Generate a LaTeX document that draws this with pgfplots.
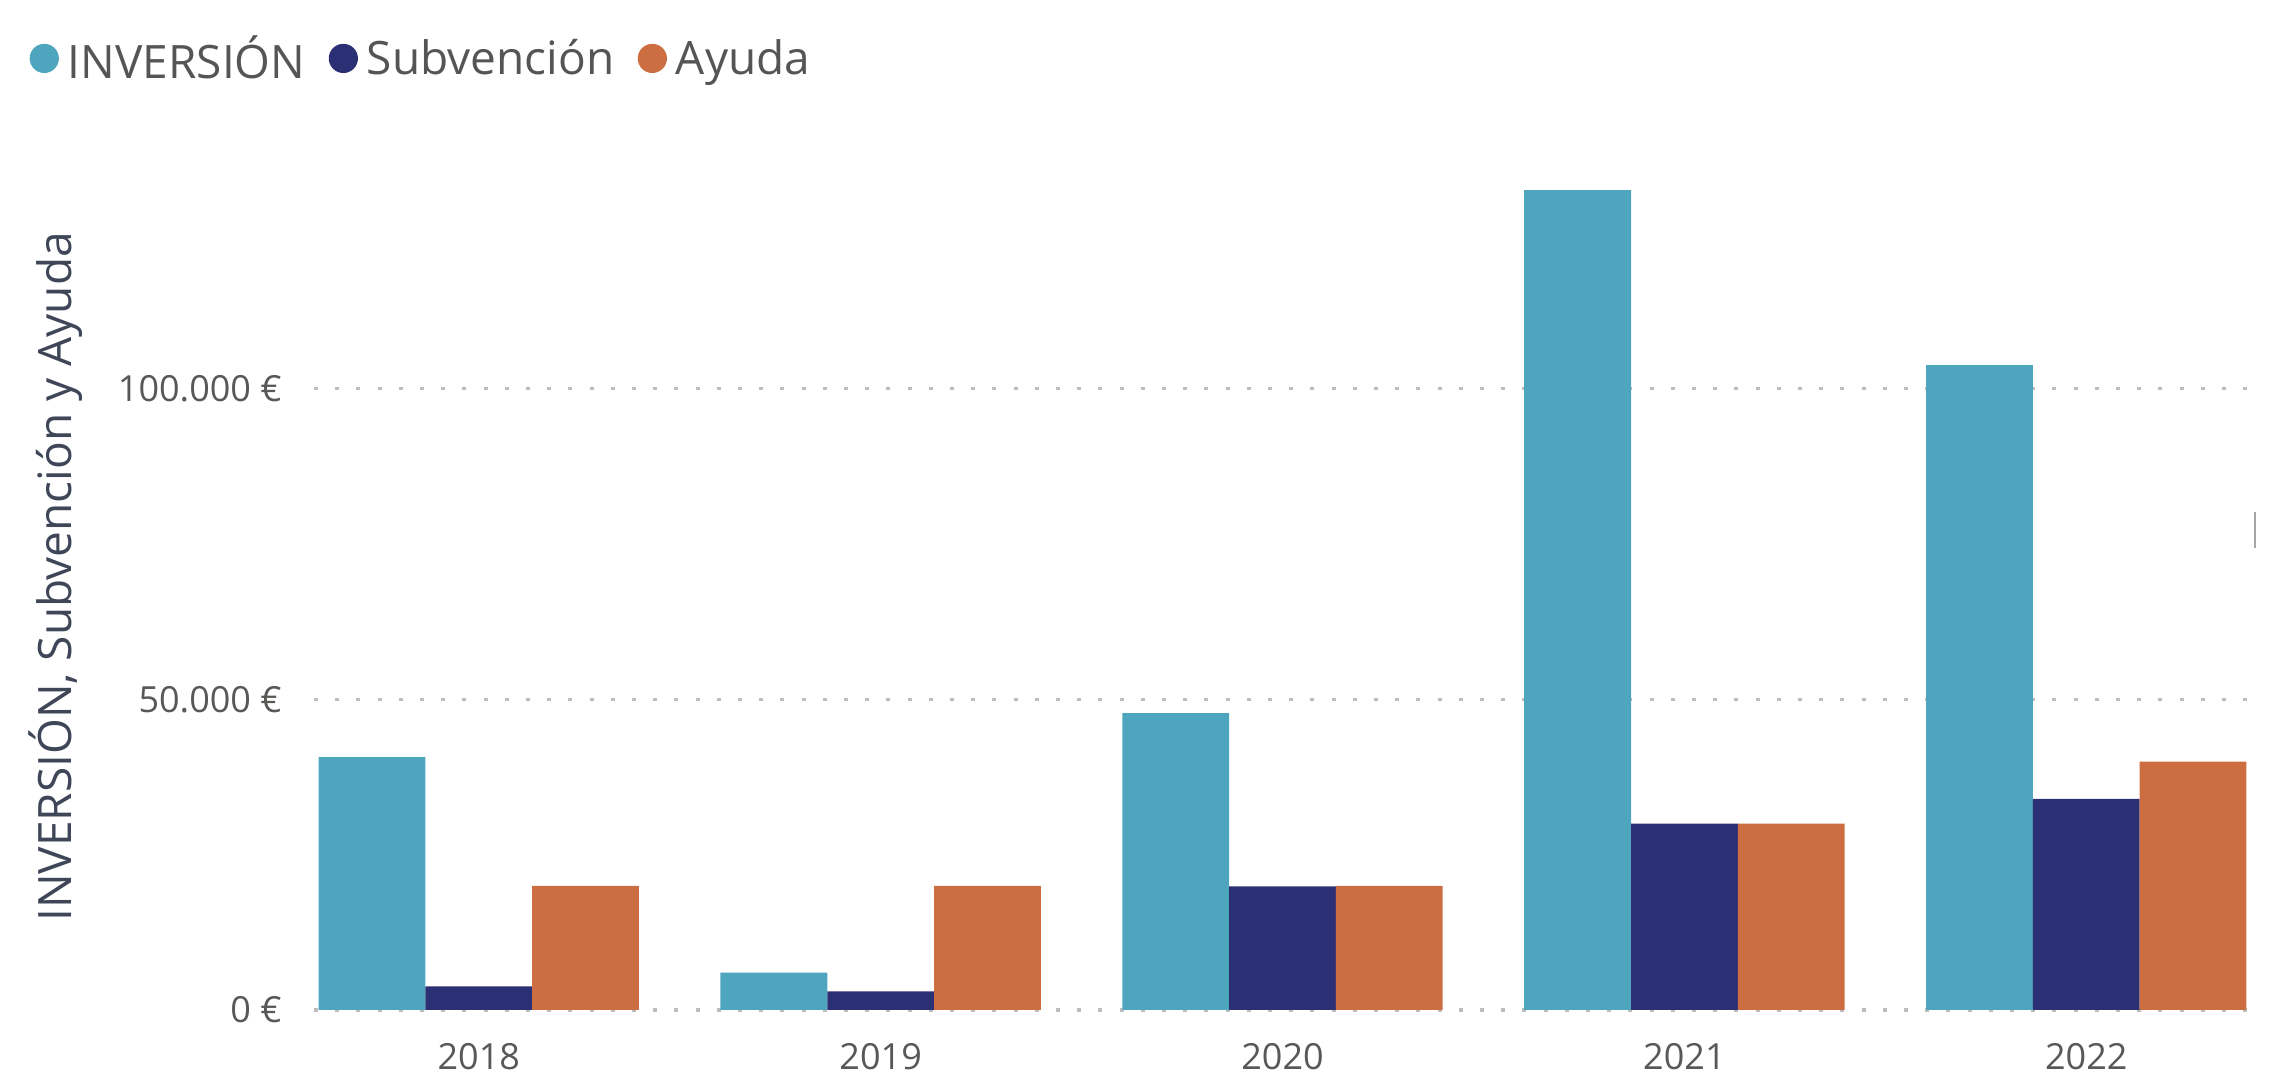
\documentclass[border=0pt]{standalone}
\usepackage{fontspec}
\setmainfont{Open Sans}
\usepackage{pgfplots}
\usepackage{pgfplotstable}
\pgfplotsset{compat=1.18}

\definecolor{inv}{HTML}{4DA5BE}
\definecolor{sub}{HTML}{2B3075}
\definecolor{ayu}{HTML}{CC6E42}
\definecolor{ticktext}{HTML}{5A5856}
\definecolor{titletext}{HTML}{3E4658}
\definecolor{legtext}{HTML}{555555}
\definecolor{gridc}{HTML}{BDBDBD}

% yearly amounts in euros
\pgfplotstableread{
x inv sub ayu
0 40700 3800 20000
1 6000 3000 20000
2 47800 19900 20000
3 132000 30000 30000
4 103800 34000 40000
}\datos

\pgfplotsset{
  dotlegend/.style={legend image code/.code={\fill[##1] (7.3pt,0pt) circle (7.3pt);}},
}

\begin{document}
\begin{tikzpicture}
\begin{axis}[
  at={(157pt,40pt)}, anchor=south west,
  scale only axis, width=966.5pt, height=419.3pt,
  xmin=-0.41, xmax=4.40, ymin=0, ymax=135000,
  ybar, bar width=0.2657,
  xtick={0,1,2,3,4}, xticklabels={2018,2019,2020,2021,2022},
  ytick={0,50000,100000}, yticklabels={0 €,50.000 €,100.000 €},
  scaled y ticks=false,
  axis line style={draw=none}, tick style={draw=none},
  ymajorgrids,
  grid style={gridc, line width=1.7pt, dash pattern=on 2pt off 8.6pt},
  tick label style={font=\fontsize{18}{21}\selectfont, text=ticktext, inner sep=0pt},
  xticklabel shift=12.4pt, yticklabel shift=16pt,
  ylabel={INVERSIÓN, Subvención y Ayuda},
  ylabel style={at={(axis description cs:-0.1337,0.5163)}, anchor=center,
    font=\fontsize{23}{27}\selectfont, text=titletext},
  legend columns=3,
  legend style={at={(axis description cs:-0.1473,1.1347)}, anchor=west,
    draw=none, fill=none, inner sep=0pt,
    font=\fontsize{23}{27}\selectfont, text=legtext,
    nodes={inner sep=0pt},
    /tikz/every odd column/.append style={column sep=4.5pt},
    /tikz/every even column/.append style={column sep=11.7pt}},
]
\addplot[fill=inv, draw=none, bar shift=-0.2657, dotlegend] table[x=x, y=inv] {\datos};
\addplot[fill=sub, draw=none, bar shift=0, dotlegend] table[x=x, y=sub] {\datos};
\addplot[fill=ayu, draw=none, bar shift=0.2657, dotlegend] table[x=x, y=ayu] {\datos};
\legend{INVERSIÓN, Subvención, Ayuda}
\end{axis}
% small grey tick at the right border
\draw[gray!70, line width=1pt] (1127.5pt,271pt) -- (1127.5pt,289pt);
\pgfresetboundingbox
\useasboundingbox (0,0) rectangle (1146pt,545pt);
\end{tikzpicture}
\end{document}
